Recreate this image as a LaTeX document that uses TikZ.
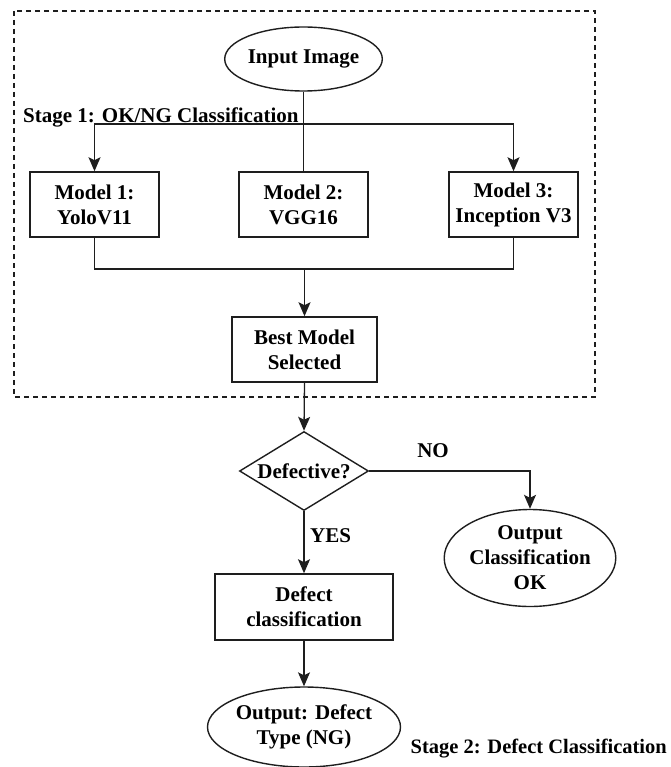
\documentclass[tikz,border=0pt]{standalone}
\usepackage{fontspec}
\setmainfont{Liberation Serif}
\usetikzlibrary{shapes.geometric,arrows.meta}
\definecolor{ink}{HTML}{1E1E1E}
\tikzset{
  lbl/.style={font=\bfseries\fontsize{21}{25}\selectfont, text=black, inner sep=0pt},
  box/.style={lbl, draw=ink, line width=1.5pt, rectangle, align=center, minimum width=129pt, minimum height=65pt},
  oval/.style={lbl, draw=ink, line width=1.4pt, ellipse, align=center, inner sep=0pt},
  decision/.style={lbl, draw=ink, line width=1.4pt, diamond, align=center, inner sep=0pt},
  link/.style={draw=ink, line width=1.3pt},
  arr/.style={link, -{Stealth[length=14pt, width=12pt, inset=3pt]}},
  frame/.style={draw=ink, line width=1.2pt, dash pattern=on 5pt off 4pt}
}
\begin{document}
\begin{tikzpicture}[x=1pt, y=-1pt]
\useasboundingbox (0,0) rectangle (670,767);

% stage 1 frame
\draw[frame] (14,11) rectangle (595,397);

% nodes
\node[oval, minimum width=129pt, minimum height=64pt] (in) at (303.5,59) {Input Image};
\node[box] (m1) at (94.5,204.5) {Model 1:\\YoloV11};
\node[box] (m2) at (303.5,204.5) {Model 2:\\VGG16};
\node[box] (m3) at (513.5,204.5) {Model 3:\\Inception V3};
\node[box, minimum width=145pt] (best) at (304.5,349.5) {Best Model\\Selected};
\node[decision, minimum width=129pt, minimum height=79pt, aspect=1.63] (def) at (304,471) {Defective?};
\node[oval, minimum width=161pt, minimum height=97pt] (ok) at (530,558) {Output\\Classification\\OK};
\node[box, minimum width=178pt, minimum height=66pt] (dc) at (304,607) {Defect\\classification};
\node[oval, minimum width=170pt, minimum height=80pt] (out) at (304,727) {Output: Defect\\Type (NG)};

% labels
\node[lbl, anchor=base west] (s1) at (23,123) {Stage 1: OK/NG Classification};
\node[lbl, anchor=base east, font=\bfseries\fontsize{20.5}{25}\selectfont] (s2) at (667,753) {Stage 2: Defect Classification};
\node[lbl, anchor=base] (no) at (433,457) {NO};
\node[lbl, anchor=base west] (yes) at (310,542) {YES};

% junctions
\coordinate (split) at (303.5,124);
\coordinate (merge) at (304.5,269);

% connectors
\draw[link] (in.south) -- (m2.north);
\draw[arr] (split) -| (m1.north);
\draw[arr] (split) -| (m3.north);
\draw[link] (m1.south) |- (merge);
\draw[link] (m3.south) |- (merge);
\draw[arr] (merge) -- (best.north);
\draw[arr] (best.south) -- (def.north);
\draw[arr] (def.east) -| (ok.north);
\draw[arr] (def.south) -- (dc.north);
\draw[arr] (dc.south) -- (out.north);
\end{tikzpicture}
\end{document}
